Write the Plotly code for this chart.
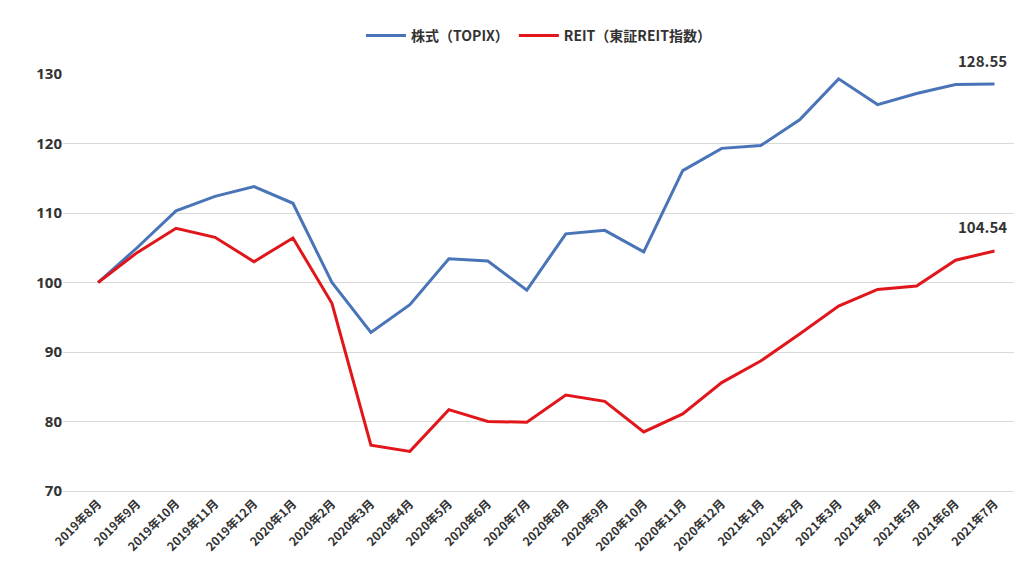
import plotly.graph_objects as go

months = ["2019年8月","2019年9月","2019年10月","2019年11月","2019年12月","2020年1月","2020年2月","2020年3月","2020年4月","2020年5月","2020年6月","2020年7月","2020年8月","2020年9月","2020年10月","2020年11月","2020年12月","2021年1月","2021年2月","2021年3月","2021年4月","2021年5月","2021年6月","2021年7月"]
topix = [100,105,110.3,112.4,113.8,111.4,100,92.8,96.8,103.4,103.1,98.9,107,107.5,104.4,116.1,119.3,119.7,123.4,129.3,125.6,127.2,128.5,128.55]
reit = [100,104.3,107.8,106.5,103,106.4,97,76.6,75.7,81.7,80,79.9,83.8,82.9,78.5,81.1,85.6,88.7,92.6,96.6,99,99.5,103.2,104.54]

fig = go.Figure()
fig.add_trace(go.Scatter(x=months, y=topix, mode="lines", name="<b>株式（TOPIX）</b>", line=dict(color="#4a74b8", width=3)))
fig.add_trace(go.Scatter(x=months, y=reit, mode="lines", name="<b>REIT（東証REIT指数）</b>", line=dict(color="#e0161b", width=3)))
for s in (topix, reit):
    fig.add_annotation(x=months[-1], y=s[-1], text=f"<b>{s[-1]:.2f}</b>", showarrow=False, yshift=24, xshift=-12, font=dict(size=15, color="#333"))
fig.update_layout(
    width=1024, height=576, paper_bgcolor="white", plot_bgcolor="white",
    margin=dict(l=55, r=18, t=66, b=93, autoexpand=False),
    font=dict(family="Noto Sans CJK JP, sans-serif", color="#333"),
    legend=dict(orientation="h", x=0.5, xanchor="center", y=1.13, yanchor="top", font=dict(size=14, family="Noto Sans CJK JP"), itemwidth=40),
    showlegend=True,
)
fig.update_xaxes(tickangle=-45, tickfont=dict(size=12), tickprefix="<b>", ticksuffix="</b>", showgrid=False, showline=True, linecolor="#d9d9d9", range=[-0.9, 23.5])
fig.update_yaxes(range=[70, 130], dtick=10, gridcolor="#d9d9d9", tickfont=dict(size=15, family="Noto Sans", color="#333"), tickprefix="<b>", ticksuffix="</b>", zeroline=False)
fig.write_html("out.html")
